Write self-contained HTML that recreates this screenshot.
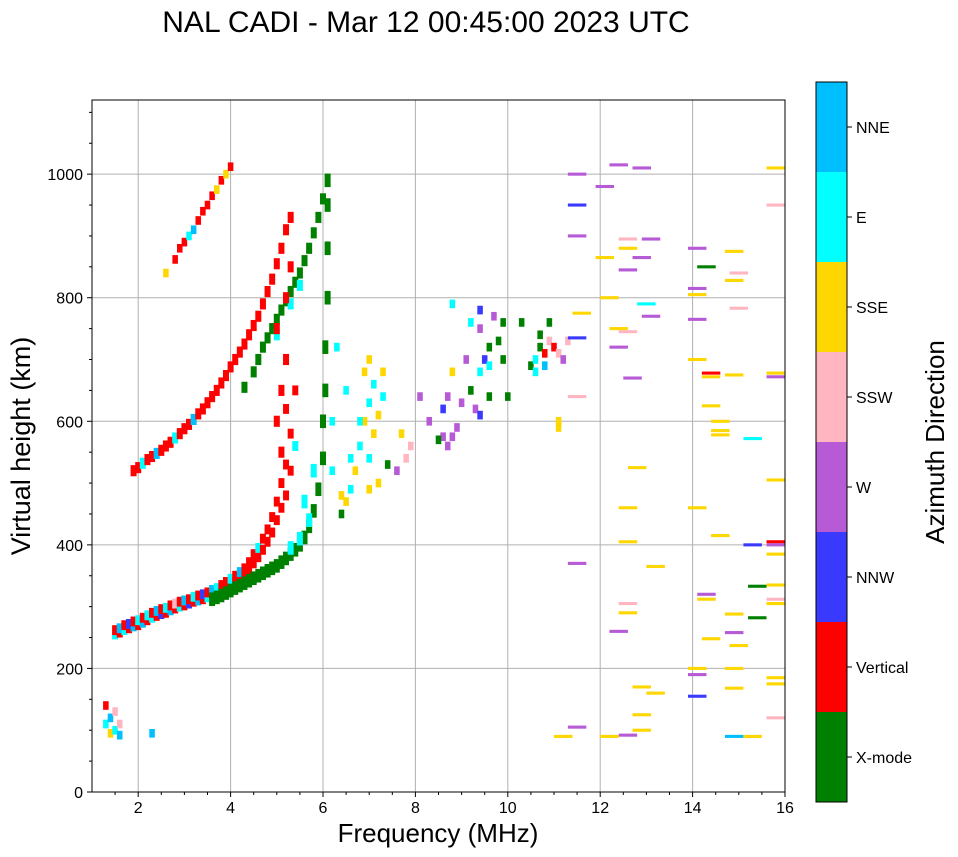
<!DOCTYPE html>
<html><head><meta charset="utf-8"><style>
body{margin:0;background:#fff;}
svg{display:block;font-family:"Liberation Sans","DejaVu Sans",sans-serif;}
</style></head><body>
<svg id="c" width="958" height="857">
<text x="426" y="32" font-size="30" text-anchor="middle">NAL CADI - Mar 12 00:45:00 2023 UTC</text>
<text x="438" y="842" font-size="26" text-anchor="middle">Frequency (MHz)</text>
<text transform="translate(30,446) rotate(-90)" font-size="27" text-anchor="middle">Virtual height (km)</text>
<text transform="translate(944,442) rotate(-90)" font-size="26" text-anchor="middle">Azimuth Direction</text>
<g id="grid"></g><g id="marks"></g><g id="axes"></g><g id="cbar"></g>
</svg>
<script>
const xTicks=[2,4,6,8,10,12,14,16];
const yTicks=[0,200,400,600,800,1000];
const directions=["X-mode","Vertical","NNW","W","SSW","SSE","E","NNE"];
const dirColors=["#008000","#ff0000","#3a3aff","#b65ad6","#ffb6c1","#ffd700","#00ffff","#00bfff"];
const lowerTrace=[[1.5,255,6],[1.5,262,1],[1.6,258,1],[1.6,265,7],[1.7,262,6],[1.7,270,1],[1.8,265,1],[1.8,272,2],[1.9,268,7],[1.9,276,1],[2.0,270,1],[2.0,278,6],[2.1,274,7],[2.1,282,1],[2.2,278,1],[2.2,286,6],[2.3,282,6],[2.3,290,1],[2.4,285,1],[2.4,293,7],[2.5,288,2],[2.5,296,1],[2.6,290,1],[2.6,298,6],[2.7,294,7],[2.7,302,1],[2.8,297,1],[2.8,305,4],[2.9,300,6],[2.9,308,1],[3.0,302,1],[3.0,310,7],[3.1,305,2],[3.1,312,1],[3.2,308,1],[3.2,316,6],[3.3,310,7],[3.3,318,1],[3.4,312,1],[3.4,320,2],[3.5,315,6],[3.5,323,1],[3.6,318,1],[3.6,327,7],[3.7,322,1],[3.7,330,6],[3.8,326,7],[3.8,335,1],[3.9,330,1],[3.9,340,1],[4.0,335,1],[4.0,345,6],[4.1,340,1],[4.1,350,1],[4.2,345,1],[4.2,356,7],[4.3,352,1],[4.3,362,1],[4.4,360,1],[4.4,372,1],[4.5,370,1],[4.5,385,1],[4.6,380,1],[4.6,395,6],[4.7,392,1],[4.7,410,1],[4.8,405,1],[4.8,425,1],[4.9,420,1],[4.9,445,1],[5.0,440,1],[5.0,470,1],[5.1,460,1],[5.1,500,1],[5.2,480,1],[5.2,530,1],[5.3,520,1],[5.3,580,1],[5.2,620,1],[5.4,560,6],[5.4,650,1]];
const xTrace=[[3.6,312,0],[3.7,315,0],[3.8,318,0],[3.9,322,0],[4.0,326,0],[4.1,330,0],[4.2,334,0],[4.3,338,0],[4.4,342,0],[4.5,346,0],[4.6,350,0],[4.7,354,0],[4.8,358,0],[4.9,362,0],[5.0,366,0],[5.1,372,0],[5.2,378,0],[5.3,385,0],[5.4,392,0],[5.5,400,0],[5.6,412,0],[5.7,430,0],[5.8,455,0],[5.9,490,0],[6.0,540,0],[6.0,600,0],[6.05,650,0],[6.05,720,0],[6.1,800,0],[6.1,880,0],[6.1,950,0],[6.1,990,0],[5.3,395,6],[5.5,410,6],[5.7,440,6],[5.6,470,6],[5.8,520,6]];
const secondHop=[[1.9,520,1],[2.0,525,1],[2.1,532,6],[2.2,538,1],[2.3,543,1],[2.4,548,7],[2.5,553,1],[2.6,560,1],[2.7,566,1],[2.8,573,6],[2.9,580,1],[3.0,588,1],[3.1,595,1],[3.2,603,7],[3.3,612,1],[3.4,620,1],[3.5,630,1],[3.6,640,1],[3.7,650,1],[3.8,662,1],[3.9,674,1],[4.0,688,1],[4.1,700,1],[4.2,712,1],[4.3,725,1],[4.4,740,1],[4.5,755,1],[4.6,770,1],[4.7,790,1],[4.8,810,1],[4.9,830,1],[5.0,855,1],[5.1,880,1],[5.2,910,1],[4.3,655,0],[4.5,680,0],[4.6,700,0],[4.7,720,0],[4.8,735,0],[4.9,750,0],[5.0,765,0],[5.1,780,0],[5.2,795,0],[5.3,810,0],[5.4,825,0],[5.5,840,0],[5.6,860,0],[5.7,880,0],[5.8,905,0],[5.9,930,0],[6.0,960,0],[5.0,740,6],[5.3,790,6],[5.5,820,6],[5.0,600,1],[5.1,650,1],[5.2,700,1],[5.0,750,1],[5.2,800,1],[5.3,850,1],[5.3,930,1],[5.1,550,1]];
const thirdHop=[[2.6,840,5],[2.8,862,1],[2.9,880,1],[3.0,890,1],[3.1,900,6],[3.2,910,7],[3.3,925,1],[3.4,940,1],[3.5,950,1],[3.6,965,1],[3.7,975,5],[3.8,990,1],[3.9,1000,5],[4.0,1012,1],[1.3,140,1],[1.3,110,6],[1.4,120,7],[1.4,95,5],[1.5,130,4],[1.5,100,6],[1.6,110,4],[1.6,92,7],[2.3,95,7]];
const scatterMid=[[6.4,480,5],[6.5,470,5],[6.6,540,6],[6.7,520,5],[6.8,560,6],[6.9,600,5],[7.0,630,6],[7.1,580,5],[7.2,500,5],[7.0,490,5],[7.3,640,6],[7.3,680,5],[6.9,680,5],[7.1,660,6],[6.5,650,6],[6.3,720,6],[6.2,600,6],[6.2,520,6],[6.4,450,0],[6.6,490,6],[7.0,540,6],[7.2,610,5],[7.6,520,3],[7.8,540,4],[7.9,560,4],[7.7,580,5],[7.4,530,0],[6.8,600,6],[7.0,700,5],[8.6,575,3],[8.8,575,3],[8.7,560,3],[8.9,590,3],[8.6,620,2],[8.7,640,3],[9.0,630,3],[9.2,650,0],[9.3,620,3],[9.4,610,2],[9.6,640,0],[9.4,680,6],[9.5,700,2],[9.6,720,0],[9.8,730,0],[9.9,700,0],[10.0,640,0],[9.4,750,3],[9.4,780,2],[9.7,770,3],[9.9,760,0],[8.8,680,5],[8.8,790,6],[9.1,700,3],[8.3,600,3],[8.1,640,3],[8.5,570,0],[9.2,760,6],[9.6,690,6],[10.5,690,0],[10.6,700,6],[10.7,720,0],[10.7,740,0],[10.8,710,1],[10.9,730,4],[11.0,720,1],[11.1,710,4],[11.2,700,3],[10.6,680,6],[10.8,690,7],[11.1,600,5],[11.1,590,5],[10.3,760,0],[10.9,760,0],[11.3,730,4]];
const sparseHigh=[[11.5,1000,3],[11.5,950,2],[11.5,900,3],[11.6,775,5],[11.5,735,2],[11.5,640,4],[11.5,370,3],[11.5,105,3],[11.2,90,5],[12.1,980,3],[12.1,865,5],[12.2,800,5],[12.4,1015,3],[12.4,750,5],[12.4,720,3],[12.6,895,4],[12.6,880,5],[12.6,845,3],[12.6,745,4],[12.7,670,3],[12.8,525,5],[12.6,460,5],[12.6,405,5],[12.6,305,4],[12.6,290,5],[12.4,260,3],[12.6,92,3],[12.9,1010,3],[12.9,865,3],[13.1,895,3],[13.0,790,6],[13.1,770,3],[13.2,365,5],[12.9,170,5],[13.2,160,5],[12.9,125,5],[12.9,100,5],[12.2,90,5],[14.1,880,3],[14.3,850,0],[14.1,815,3],[14.1,805,5],[14.1,765,3],[14.1,700,5],[14.4,678,1],[14.4,672,5],[14.4,625,5],[14.6,600,5],[14.6,585,5],[14.6,578,5],[14.1,460,5],[14.6,415,5],[14.3,320,3],[14.3,312,5],[14.4,248,5],[14.1,200,5],[14.1,190,3],[14.1,155,2],[14.9,875,5],[15.0,840,4],[14.9,828,5],[15.0,783,4],[14.9,675,5],[15.3,572,6],[15.3,400,2],[15.4,333,0],[15.4,282,0],[14.9,288,5],[14.9,258,3],[15.0,237,5],[14.9,200,5],[14.9,168,5],[14.9,90,7],[15.3,90,5],[15.8,1010,5],[15.8,950,4],[15.8,678,5],[15.8,672,3],[15.8,505,5],[15.8,405,1],[15.8,400,3],[15.8,385,5],[15.8,335,5],[15.8,312,4],[15.8,305,5],[15.8,185,5],[15.8,175,5],[15.8,120,4]];

const NS="http://www.w3.org/2000/svg";
const L=92,R=785,T=100,B=792,xMin=1,xMax=16,yMin=0,yMax=1120;
const xs=f=>L+(f-xMin)/(xMax-xMin)*(R-L);
const ys=h=>B-(h-yMin)/(yMax-yMin)*(B-T);
function mk(tag,attrs,parent){const e=document.createElementNS(NS,tag);for(const k in attrs)e.setAttribute(k,attrs[k]);parent.appendChild(e);return e;}
const grid=document.getElementById('grid'),marks=document.getElementById('marks'),axes=document.getElementById('axes'),cbar=document.getElementById('cbar');
xTicks.forEach(t=>{const g=mk('line',{x1:xs(t),x2:xs(t),y1:T,y2:B,stroke:'#b0b0b0','stroke-width':1},grid);

});
yTicks.forEach(t=>{const g=mk('line',{x1:L,x2:R,y1:ys(t),y2:ys(t),stroke:'#b0b0b0','stroke-width':1},grid);

});
function drawSet(arr,name,w,hh){arr.forEach(p=>{
const r=mk('rect',{x:xs(p[0]-w/2),y:ys(p[1]+hh/2),width:xs(w)-xs(0),height:ys(0)-ys(hh),fill:dirColors[p[2]]},marks);

});}
drawSet(lowerTrace,'lower-trace-echo',0.13,16);
drawSet(xTrace,'xmode-trace-echo',0.13,22);
drawSet(secondHop,'second-hop-echo',0.13,18);
drawSet(thirdHop,'third-hop-echo',0.12,14);
drawSet(scatterMid,'scatter-echo',0.12,14);
drawSet(sparseHigh,'high-freq-echo',0.4,5);
const fr=mk('rect',{x:L,y:T,width:R-L,height:B-T,fill:'none',stroke:'#000','stroke-width':1},axes);


xTicks.forEach(t=>{mk('line',{x1:xs(t),x2:xs(t),y1:B,y2:B+5,stroke:'#000'},axes);
const tx=mk('text',{x:xs(t),y:B+21,'font-size':16,'text-anchor':'middle'},axes);tx.textContent=t;

});
for(let m=1.5;m<16;m+=0.5){if(m%2!==0)mk('line',{x1:xs(m),x2:xs(m),y1:B,y2:B+3,stroke:'#000'},axes);}
yTicks.forEach(t=>{mk('line',{x1:L-5,x2:L,y1:ys(t),y2:ys(t),stroke:'#000'},axes);
const tx=mk('text',{x:L-9,y:ys(t)+6,'font-size':16,'text-anchor':'end'},axes);tx.textContent=t;

});
for(let m=50;m<1120;m+=50){if(m%200!==0)mk('line',{x1:L-3,x2:L,y1:ys(m),y2:ys(m),stroke:'#000'},axes);}
const cT=82,cB=802,cL=816,cW=31,seg=(cB-cT)/directions.length;
directions.forEach((d,i)=>{const y0=cB-(i+1)*seg;
const r=mk('rect',{x:cL,y:y0,width:cW,height:seg,fill:dirColors[i]},cbar);


mk('line',{x1:cL+cW,x2:cL+cW+5,y1:y0+seg/2,y2:y0+seg/2,stroke:'#000'},cbar);
const tx=mk('text',{x:cL+cW+9,y:y0+seg/2+6,'font-size':16},cbar);tx.textContent=d;

});
mk('rect',{x:cL,y:cT,width:cW,height:cB-cT,fill:'none',stroke:'#000'},cbar);
</script>
</body></html>
